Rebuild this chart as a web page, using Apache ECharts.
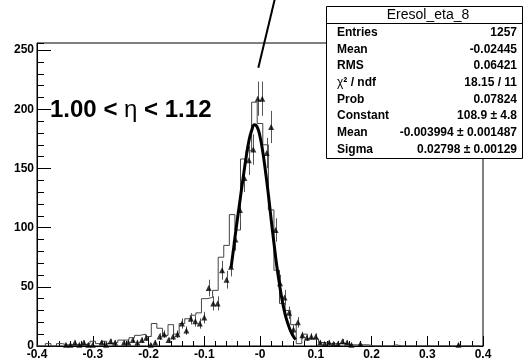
<!DOCTYPE html>
<html><head><meta charset="utf-8">
<script src="https://cdn.jsdelivr.net/npm/echarts@6/dist/echarts.min.js"></script>
<style>html,body{margin:0;padding:0;background:#fff}#c{width:524px;height:364px}</style>
</head><body><div id="c"></div>
<script>
// ---- data ----
const histStart = -0.405;   // left edge of first histogram bin
const histWidth = 0.01;
const histValues = [
  0,0,2,0,2,1,1,1,1,2,
  4,2,4,2,3,5,5,7,9,10,
  8,19,15,9,18,10,19,23,26,28,
  40,41,47,75,85,111,98,158,165,206,
  188,170,115,64,36,30,18,2,10,6,
  6,3,2,2,2,2,1,1,1,1,
  0,0,0,0,1,0,0,0,0,0,
  0,0,0,0,0,0,0,0,0,0
];
const dataStart = -0.4;     // left edge of first data bin
const dataWidth = 0.008;
const dataValues = [
  0,0,0,0,0,0,1,1,3,1,
  3,1,1,0,3,1,4,3,0,3,
  3,5,3,5,7,1,3,8,10,5,
  8,10,19,13,23,21,19,24,49,36,
  36,64,56,67,90,115,142,157,166,209,
  209,163,185,98,53,41,28,14,20,9,
  7,8,8,3,2,3,2,2,4,3,
  1,0,2,0,0,0,0,0,0,0,
  0,0,0,0,0,0,0,0,0,0,
  0,0,0,0,1,0,0,0,0,0
];
const fitX = [-0.052,-0.048,-0.044,-0.040,-0.035,-0.030,-0.025,-0.020,-0.015,-0.010,-0.005,0.000,0.005,0.010,0.015,0.020,0.025,0.030,0.035,0.040,0.045,0.050,0.055,0.060,0.064];
const fitY = [66,80,95,109,126,143,159,173,182,187,185,177,164,147,128,107,87,68,52,38,27,19,12.5,8,5.5];
const pointerLine = [[-0.003,235],[0.0275,295]];
const xTickLabels = ['-0.4','-0.3','-0.2','-0.1','-0','0.1','0.2','0.3','0.4'];
const yTickLabels = ['0','50','100','150','200','250'];
const statsTitle = 'Eresol_eta_8';
const statsNames = ['Entries','Mean','RMS','χ² / ndf','Prob','Constant','Mean','Sigma'];
const statsValues = ['1257','-0.02445','0.06421','18.15 / 11','0.07824','108.9 ± 4.8','-0.003994 ± 0.001487','0.02798 ± 0.00129'];
const rangeText = ['1.00 < ','η',' < 1.12'];

// ---- build series data ----
const histLine = histValues.map((v,k)=>[histStart + k*histWidth, v]);
histLine.push([histStart + histValues.length*histWidth, histValues[histValues.length-1]]);
const pts = [], errs = [];
dataValues.forEach((v,i)=>{
  if (v > 0) {
    const x = dataStart + (i+0.5)*dataWidth;
    pts.push([x, v]);
    errs.push([x, v - Math.sqrt(v), v + Math.sqrt(v)]);
  }
});
const fitData = fitX.map((x,i)=>[x, fitY[i]]);

const chart = echarts.init(document.getElementById('c'), null, {renderer:'canvas'});
const FAM = 'Liberation Sans';
const statsGraphics = [];
const boxL = 326.5, boxT = 6.5, boxW = 196, boxH = 152;
const txt = (x, y, text, size, weight, align) => ({type:'text', z:101, x:x, y:y,
  style:{text:text, fontFamily:FAM, fontSize:size, fontWeight:weight, fill:'#000', align:align, verticalAlign:'middle'}});
statsGraphics.push({type:'rect', z:100, shape:{x:boxL,y:boxT,width:boxW,height:boxH}, style:{fill:'#fff',stroke:'#000',lineWidth:1}});
statsGraphics.push({type:'line', z:101, shape:{x1:boxL,y1:23.5,x2:boxL+boxW,y2:23.5}, style:{stroke:'#000',lineWidth:1}});
statsGraphics.push(txt(428, 15, statsTitle, 14, 'normal', 'center'));
statsNames.forEach((n,k)=>{
  const y = 32.5 + 16.7*k;
  if (n.startsWith('χ')) {
    statsGraphics.push({type:'text', z:101, x:337, y:y, style:{text:'{g|χ}{b|² / ndf}',
      rich:{g:{fontFamily:FAM, fontSize:12, fontWeight:'normal', fill:'#000'}, b:{fontFamily:FAM, fontSize:12, fontWeight:'bold', fill:'#000'}},
      align:'left', verticalAlign:'middle'}});
  } else {
    statsGraphics.push(txt(337, y, n, 12, 'bold', 'left'));
  }
  statsGraphics.push(txt(517, y, statsValues[k], 12, 'bold', 'right'));
});
statsGraphics.push({type:'text', z:50, x:50, y:110, style:{text:'{b|'+rangeText[0]+'}{g|'+rangeText[1]+'}{b|'+rangeText[2]+'}',
  rich:{b:{fontFamily:FAM, fontSize:24, fontWeight:'bold', fill:'#000'}, g:{fontFamily:FAM, fontSize:24, fontWeight:'normal', fill:'#000'}},
  align:'left', verticalAlign:'middle'}});

const xFmt = v => { const i = Math.round((v + 0.4)/0.1); return (Math.abs(v - (-0.4 + i*0.1)) < 1e-6 && xTickLabels[i] !== undefined) ? xTickLabels[i] : ''; };
const yFmt = v => { const i = Math.round(v/50); return (Math.abs(v - i*50) < 1e-6 && yTickLabels[i] !== undefined) ? yTickLabels[i] : ''; };

chart.setOption({
  animation:false,
  backgroundColor:'#fff',
  grid:{left:37, right:41, top:43, bottom:18, show:true, borderColor:'#000', borderWidth:1, backgroundColor:'transparent'},
  xAxis:{type:'value', min:-0.4, max:0.4, interval:0.1,
    axisLine:{show:true, onZero:false, lineStyle:{color:'#000', width:1}},
    axisTick:{show:true, inside:true, length:10, lineStyle:{color:'#000'}},
    minorTick:{show:true, splitNumber:5, length:5, lineStyle:{color:'#000'}},
    splitLine:{show:false},
    axisLabel:{formatter:xFmt, color:'#000', fontFamily:FAM, fontWeight:'bold', fontSize:12, margin:3}},
  yAxis:[
    {type:'value', min:0, max:256, interval:50, position:'left',
      axisLine:{show:true, onZero:false, lineStyle:{color:'#000', width:1}},
      axisTick:{show:true, inside:true, length:14, lineStyle:{color:'#000'}},
      splitLine:{show:false},
      axisLabel:{formatter:yFmt, color:'#000', fontFamily:FAM, fontWeight:'bold', fontSize:12, margin:3, showMaxLabel:false}},
    {type:'value', min:0, max:256, interval:10, position:'left', offset:0,
      axisLine:{show:false, onZero:false}, splitLine:{show:false}, axisLabel:{show:false},
      axisTick:{show:true, inside:true, length:7, lineStyle:{color:'#000'}}}
  ],
  series:[
    {type:'line', data:histLine, step:'end', symbol:'none', lineStyle:{color:'#444', width:1}, z:2},
    {type:'custom', data:errs, z:3, renderItem:(params, api)=>{
      const p1 = api.coord([api.value(0), api.value(1)]);
      const p2 = api.coord([api.value(0), api.value(2)]);
      const x = Math.round(p1[0]) + 0.5;
      return {type:'line', shape:{x1:x, y1:p1[1], x2:x, y2:p2[1]}, style:{stroke:'#555', lineWidth:1}};
    }},
    {type:'scatter', data:pts, symbol:'triangle', symbolSize:6, itemStyle:{color:'#000'}, z:4},
    {type:'line', data:fitData, smooth:true, symbol:'none', lineStyle:{color:'#000', width:3}, z:5},
    {type:'line', data:pointerLine, symbol:'none', clip:false, lineStyle:{color:'#000', width:2}, z:6}
  ],
  graphic:statsGraphics
});
</script></body></html>
